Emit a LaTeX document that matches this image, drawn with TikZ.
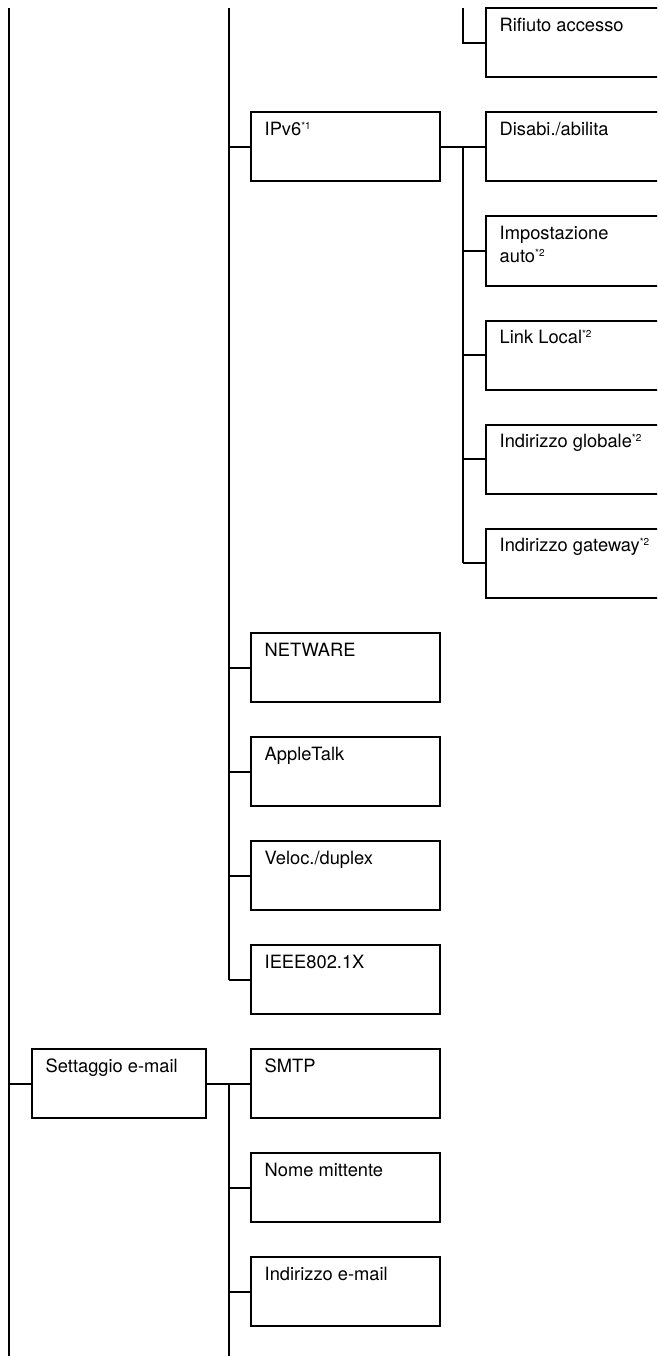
\documentclass[tikz,border=0pt]{standalone}
\usepackage{fontspec}
\setmainfont{TeX Gyre Heros}
\newcommand{\fnmark}[1]{\raisebox{6.3pt}{\fontsize{10}{10}\selectfont *#1}}
\tikzset{
  bx/.style={draw, line width=2pt, inner sep=0pt, outer sep=0pt, anchor=north west,
    minimum width=189.5pt, minimum height=69pt,
    label={[anchor=base west, inner sep=0pt, font=\fontsize{18.3}{23}\selectfont, shift={(14,23.3)}]north west:\parbox[t]{175pt}{\raggedright #1}}},
  conn/.style={line width=2pt},
}
\begin{document}
\begin{tikzpicture}[x=1pt,y=-1pt]
\useasboundingbox (0,0) rectangle (657,1356);
\clip (0,0) rectangle (657,1356);
% column 2 boxes
\node[bx={IPv6\fnmark{1}}] (ipv6) at (250.5,112.5) {};
\node[bx={NETWARE}] (netw) at (250.5,633) {};
\node[bx={AppleTalk}] (apple) at (250.5,737) {};
\node[bx={Veloc./duplex}] (veloc) at (250.5,841) {};
\node[bx={IEEE802.1X}] (ieee) at (250.5,945) {};
\node[bx={SMTP}] (smtp) at (250.5,1049) {};
\node[bx={Nome mittente}] (nome) at (250.5,1153) {};
\node[bx={Indirizzo e-mail}] (email) at (250.5,1257) {};
% column 1
\node[bx={Settaggio e-mail}, minimum width=174.5pt] (sett) at (31.5,1049) {};
% column 3 boxes (open to the right)
\node[bx={Rifiuto accesso}, minimum width=200pt] (rif) at (485.5,8.5) {};
\node[bx={Disabi./abilita}, minimum width=200pt] (dis) at (485.5,112.5) {};
\node[bx={Impostazione\\auto\fnmark{2}}, minimum width=200pt] (auto) at (485.5,216.5) {};
\node[bx={Link Local\fnmark{2}}, minimum width=200pt] (link) at (485.5,320.5) {};
\node[bx={Indirizzo globale\fnmark{2}}, minimum width=200pt] (glob) at (485.5,424.5) {};
\node[bx={Indirizzo gateway\fnmark{2}}, minimum width=200pt] (gw) at (485.5,528.5) {};
% trunk coordinates
\coordinate (l1top) at (9,8);
\coordinate (l1bot) at (9,1356);
\coordinate (l2top) at (228.5,8);
\coordinate (l3top) at (463,8);
\coordinate (l4) at (463,0);
\coordinate (l5bot) at (228.5,1356);
% leftmost trunk
\draw[conn] (l1top) -- (l1bot);
\draw[conn] (l1top |- sett.west) -- (sett.west);
% second trunk
\draw[conn] (l2top) -- (l2top |- ieee.west);
\foreach \c in {ipv6,netw,apple,veloc,ieee}
  \draw[conn] (l2top |- \c.west) -- (\c.west);
% Rifiuto branch
\draw[conn] (l3top) -- (l3top |- rif.west) -- (rif.west);
% IPv6 branch
\draw[conn] (ipv6.east) -- (dis.west);
\draw[conn] (l4 |- ipv6.east) -- (l4 |- gw.west);
\foreach \c in {auto,link,glob,gw}
  \draw[conn] (l4 |- \c.west) -- (\c.west);
% e-mail branch
\draw[conn] (sett.east) -- (smtp.west);
\draw[conn] (l5bot |- sett.east) -- (l5bot);
\foreach \c in {nome,email}
  \draw[conn] (l5bot |- \c.west) -- (\c.west);
\end{tikzpicture}
\end{document}
